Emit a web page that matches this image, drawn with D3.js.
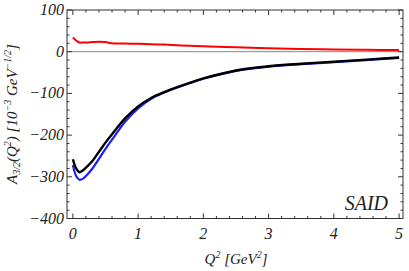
<!DOCTYPE html>
<html><head><meta charset="utf-8">
<script src="https://cdn.jsdelivr.net/npm/d3@7"></script>
</head>
<body style="margin:0"><svg id="c" width="409" height="271"></svg>
<script>
const q2 = [0, 0.05, 0.1, 0.15, 0.2, 0.3, 0.4, 0.5, 0.6, 0.8, 1.0, 1.2, 1.4, 1.6, 1.8, 2.0, 2.5, 3.0, 3.5, 4.0, 4.5, 5.0];
const blackVals = [-258, -280, -289, -285, -278, -262, -240, -218, -198, -160, -131, -111, -97, -85, -74, -64, -45, -35, -29, -24, -19, -14];
const blueVals  = [-272, -298, -307, -305, -298, -280, -257, -233, -211, -168, -136, -113, -98, -86, -75, -65, -46, -36, -30, -25, -20, -15];
const redVals   = [34, 27, 22, 22, 22, 23, 24, 23, 20, 19.5, 19, 18, 17, 15.5, 14, 13, 10.5, 8, 6.5, 5.5, 4.5, 4];
const xTicks = [0, 1, 2, 3, 4, 5];
const yTicks = [100, 0, -100, -200, -300, -400];

const svg = d3.select("#c");
const L = 67, R = 403, T = 10, B = 218.5;
const x = d3.scaleLinear().domain([-0.09, 5.06]).range([L, R]);
const y = d3.scaleLinear().domain([-400, 100]).range([B, T]);

svg.append("clipPath").attr("id","clp").append("rect")
  .attr("x",L).attr("y",T).attr("width",R-L).attr("height",B-T);

svg.append("line").attr("x1",L).attr("x2",R).attr("y1",y(0)).attr("y2",y(0))
  .attr("stroke","#888").attr("stroke-width",1);

const g = svg.append("g").attr("clip-path","url(#clp)");
const line = vals => d3.line().x((d,i)=>x(q2[i])).y(d=>y(d)).curve(d3.curveCatmullRom)(vals);
g.append("path").attr("d",line(redVals)).attr("fill","none").attr("stroke","#ff0000").attr("stroke-width",2);
g.append("path").attr("d",line(blueVals)).attr("fill","none").attr("stroke","#1f1fff").attr("stroke-width",2.2);
g.append("path").attr("d",line(blackVals)).attr("fill","none").attr("stroke","#000").attr("stroke-width",2.4);

svg.append("rect").attr("x",L).attr("y",T).attr("width",R-L).attr("height",B-T)
  .attr("fill","none").attr("stroke","#333").attr("stroke-width",1);

const xMinor = d3.range(0, 5.01, 0.2);
const yMinor = d3.range(-400, 100.1, 20);
const tk = svg.append("g").attr("stroke","#333").attr("stroke-width",1);
xMinor.forEach(v=>{
  const major = Math.abs(v - Math.round(v)) < 1e-6;
  const len = major ? 5 : 2.5;
  tk.append("line").attr("x1",x(v)).attr("x2",x(v)).attr("y1",B).attr("y2",B-len);
  tk.append("line").attr("x1",x(v)).attr("x2",x(v)).attr("y1",T).attr("y2",T+len);
});
yMinor.forEach(v=>{
  const major = v % 100 === 0;
  const len = major ? 5 : 2.5;
  tk.append("line").attr("y1",y(v)).attr("y2",y(v)).attr("x1",L).attr("x2",L+len);
  tk.append("line").attr("y1",y(v)).attr("y2",y(v)).attr("x1",R).attr("x2",R-len);
});

const txt = (sel, size) => sel.append("text")
  .style("font-family","'Liberation Serif', serif")
  .style("font-style","italic")
  .style("font-size", size + "px")
  .attr("fill","#222");

xTicks.forEach(v=>{
  txt(svg,16).attr("x",x(v)).attr("y",239).attr("text-anchor","middle").text(v);
});
yTicks.forEach(v=>{
  txt(svg,16).attr("x",L-3).attr("y",y(v)+5).attr("text-anchor","end")
    .text(v<0 ? "\u2212"+Math.abs(v) : v);
});

const xt = txt(svg,15).attr("x",236).attr("y",264).attr("text-anchor","middle");
xt.append("tspan").text("Q");
xt.append("tspan").style("font-size","10px").attr("dy",-6).text("2");
xt.append("tspan").attr("dy",6).text(" [GeV");
xt.append("tspan").style("font-size","10px").attr("dy",-6).text("2");
xt.append("tspan").attr("dy",6).text("]");

const yt = txt(svg,15).attr("transform","translate(17,114) rotate(-90)").attr("text-anchor","middle");
yt.append("tspan").text("A");
yt.append("tspan").style("font-size","10px").attr("dy",3).text("3/2");
yt.append("tspan").attr("dy",-3).text("(Q");
yt.append("tspan").style("font-size","10px").attr("dy",-6).text("2");
yt.append("tspan").attr("dy",6).text(") [10");
yt.append("tspan").style("font-size","10px").attr("dy",-6).text("\u22123");
yt.append("tspan").attr("dy",6).text(" GeV");
yt.append("tspan").style("font-size","10px").attr("dy",-6).text("\u22121/2");
yt.append("tspan").attr("dy",6).text("]");

txt(svg,20).attr("x",388).attr("y",210).attr("text-anchor","end").text("SAID");
</script></body></html>
